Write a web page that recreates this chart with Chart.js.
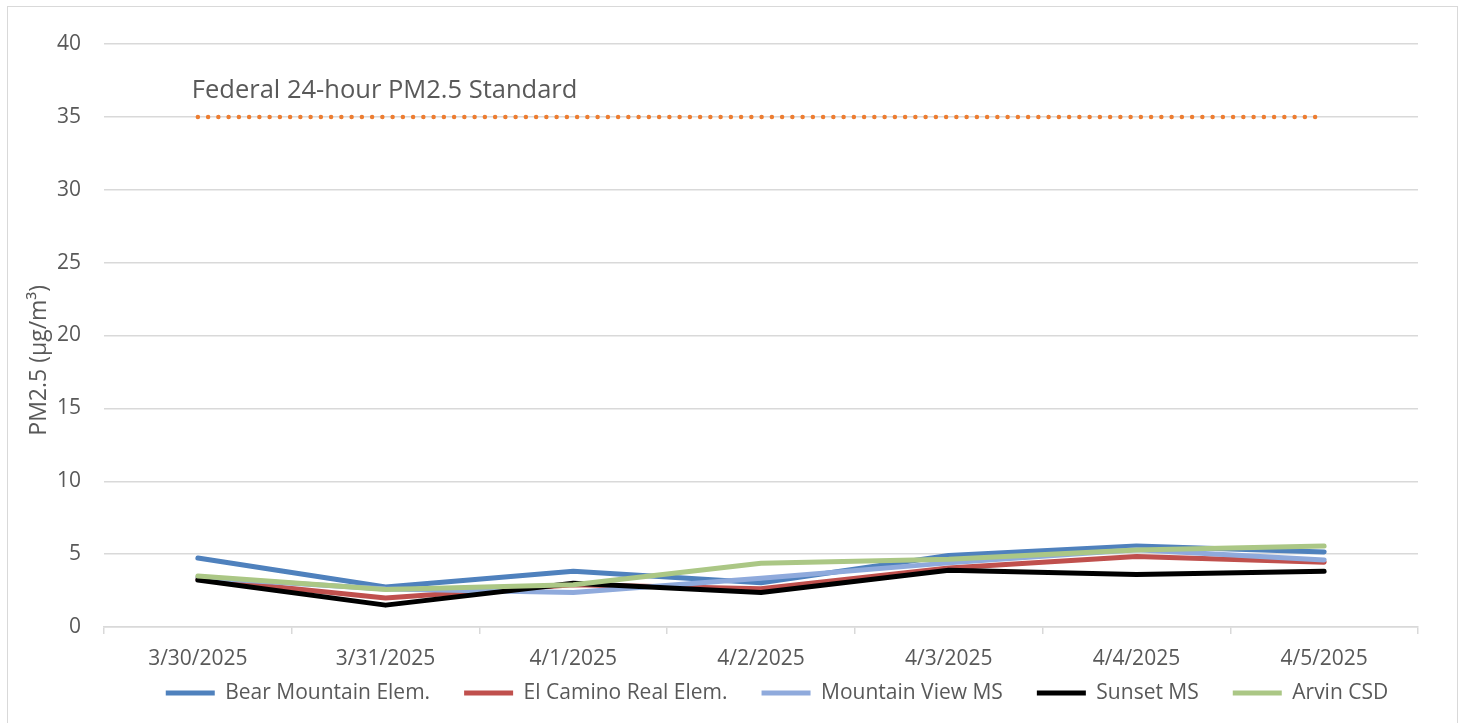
<!DOCTYPE html>
<html>
<head>
<meta charset="utf-8">
<script src="https://cdn.jsdelivr.net/npm/chart.js@4.4.1/dist/chart.umd.min.js"></script>
<style>
  body { margin: 0; background: #fff; overflow: hidden; }
  #wrap { position: absolute; left: 0; top: 0; width: 1462px; height: 723px; }
  #frame { position: absolute; left: 7px; top: 6px; width: 1449px; height: 800px; border: 1.5px solid #d9d9d9; pointer-events: none; }
</style>
</head>
<body>
<div id="wrap"><canvas id="pmChart" width="1462" height="723"></canvas></div>
<div id="frame"></div>
<script>
const dates = ['3/30/2025', '3/31/2025', '4/1/2025', '4/2/2025', '4/3/2025', '4/4/2025', '4/5/2025'];
const bearMountain = [4.73, 2.74, 3.82, 3.04, 4.9, 5.55, 5.15];
const elCamino = [3.3, 1.99, 2.9, 2.62, 4.05, 4.83, 4.45];
const mountainView = [3.4, 2.6, 2.36, 3.35, 4.4, 5.3, 4.6];
const sunset = [3.22, 1.5, 3.0, 2.36, 3.9, 3.6, 3.82];
const arvin = [3.5, 2.58, 2.9, 4.37, 4.65, 5.28, 5.56];
const standard = [35, 35, 35, 35, 35, 35, 35];
const standardLabel = 'Federal 24-hour PM2.5 Standard';
const yTitle = 'PM2.5 (\u00b5g/m\u00b3)';

const gray = '#595959';
const gridGray = '#d9d9d9';
const fontFamily = '"Open Sans", Lato, sans-serif';
Chart.defaults.font.family = fontFamily;
Chart.defaults.font.size = 21;
Chart.defaults.color = gray;

function station(label, data, color, order) {
    return {
        label: label,
        data: data,
        borderColor: color,
        backgroundColor: color,
        borderWidth: 5,
        borderCapStyle: 'round',
        borderJoinStyle: 'round',
        pointRadius: 0,
        tension: 0,
        order: order
    };
}

// text above the dotted standard line + the y axis title
const extraText = {
    id: 'extraText',
    afterDatasetsDraw(chart) {
        const x = chart.scales.x;
        const y = chart.scales.y;
        const ctx = chart.ctx;
        ctx.save();
        ctx.fillStyle = gray;
        ctx.textBaseline = 'middle';
        ctx.font = '25.5px ' + fontFamily;
        ctx.textAlign = 'left';
        ctx.fillText(standardLabel, x.getPixelForValue(0) - 6, y.getPixelForValue(36.8));

        // excel puts the axis title a bit below the middle
        ctx.translate(39, y.getPixelForValue(18.3));
        ctx.rotate(-Math.PI / 2);
        ctx.font = '23px ' + fontFamily;
        ctx.textAlign = 'center';
        ctx.fillText(yTitle, 0, 0);
        ctx.restore();
    }
};

// legend in the reference sits right of centre and tucked under the dates
const legendShift = {
    id: 'legendShift',
    afterLayout(chart) {
        const lg = chart.legend;
        lg.left = 114;
        lg.right = 1440;
        lg.top = 693 - 10.5 - 34;
        lg.bottom = 723;
    }
};

new Chart(document.getElementById('pmChart'), {
    type: 'line',
    data: {
        labels: dates,
        datasets: [
            station('Bear Mountain Elem.', bearMountain, '#4f81bd', 5),
            station('El Camino Real Elem.', elCamino, '#c0504d', 4),
            station('Mountain View MS', mountainView, '#8faadc', 3),
            station('Sunset MS', sunset, '#000000', 2),
            station('Arvin CSD', arvin, '#abc785', 1),
            {
                label: 'standard',
                data: standard,
                borderColor: '#ed7d31',
                borderWidth: 4.5,
                borderDash: [0, 10.25],
                borderCapStyle: 'round',
                pointRadius: 0,
                order: 0
            }
        ]
    },
    options: {
        responsive: false,
        animation: false,
        layout: {
            padding: { left: 8, right: 44, top: 44, bottom: -14 }
        },
        plugins: {
            tooltip: { enabled: false },
            legend: {
                position: 'bottom',
                labels: {
                    usePointStyle: true,
                    pointStyle: 'line',
                    pointStyleWidth: 49,
                    boxHeight: 21,
                    padding: 34,
                    color: gray,
                    filter: (item) => item.text !== 'standard',
                    sort: (a, b) => a.datasetIndex - b.datasetIndex
                }
            }
        },
        scales: {
            x: {
                offset: true,
                afterFit: (scale) => { scale.height = 45; },
                border: { display: true, color: gridGray, width: 1.5 },
                grid: {
                    offset: true,
                    drawOnChartArea: false,
                    drawTicks: true,
                    tickLength: 7,
                    color: gridGray,
                    lineWidth: 1.5
                },
                ticks: { padding: 12, color: gray, maxRotation: 0 }
            },
            y: {
                min: 0,
                max: 40,
                afterFit: (scale) => { scale.width = 96; },
                border: { display: false },
                grid: { color: gridGray, lineWidth: 1.5, drawTicks: false },
                ticks: { stepSize: 5, padding: 23, color: gray }
            }
        }
    },
    plugins: [extraText, legendShift]
});
</script>
</body>
</html>
